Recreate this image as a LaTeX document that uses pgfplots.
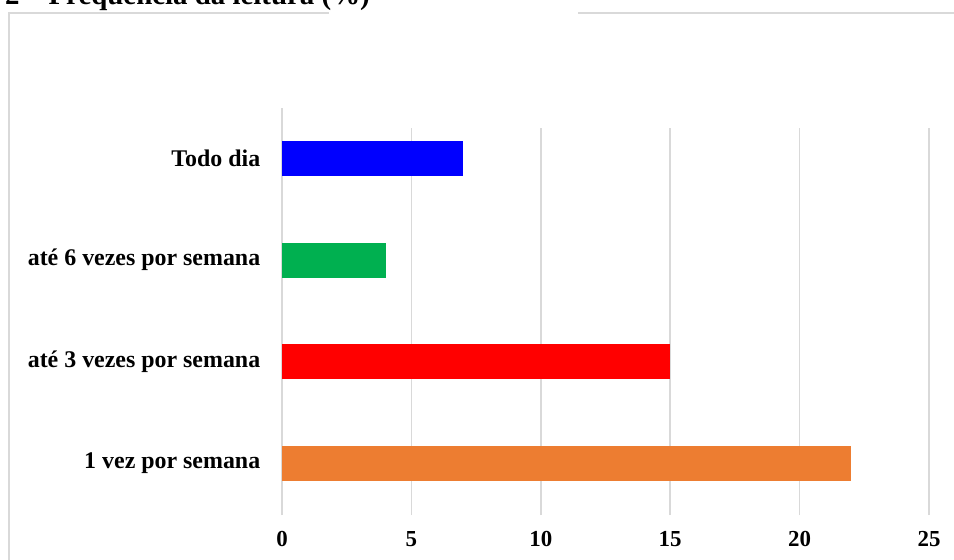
\documentclass[border=0pt]{standalone}
\usepackage{pgfplots}
\pgfplotsset{compat=1.18}
\usepackage{fontspec}
\setmainfont{Liberation Serif}
\definecolor{gridgray}{HTML}{D9D9D9}
\definecolor{barblue}{HTML}{0000FF}
\definecolor{bargreen}{HTML}{00B050}
\definecolor{barred}{HTML}{FF0000}
\definecolor{barorange}{HTML}{ED7D31}
\begin{document}
\begin{tikzpicture}
\clip (0,0) rectangle (954bp,-560bp);
% chart frame
\draw[gridgray, line width=2bp] (9bp,-12.5bp) -- (9bp,-560bp);
\draw[gridgray, line width=2bp] (8bp,-12.5bp) -- (329bp,-12.5bp);
\draw[gridgray, line width=2bp] (578bp,-12.5bp) -- (954bp,-12.5bp);
% caption
\node[anchor=base east, inner sep=0, font=\bfseries\fontsize{29}{29}\selectfont]
  at (370bp,-4.5bp) {2 – Frequência da leitura (\%)};
\begin{axis}[
  at={(282bp,-515bp)}, anchor=south west,
  scale only axis, width=647bp, height=387bp,
  xbar, bar width=35bp, bar shift=0pt,
  xmin=0, xmax=25, ymin=-0.51, ymax=3.3,
  xtick={0,5,...,25}, ytick={0,1,2,3},
  yticklabels={1 vez por semana, até 3 vezes por semana, até 6 vezes por semana, Todo dia},
  xmajorgrids, major grid style={gridgray, line width=1.5bp},
  axis line style={draw=none}, tick style={draw=none},
  /pgf/number format/assume math mode=true,
  xticklabel style={font=\bfseries\fontsize{23}{23}\selectfont, yshift=-13bp},
  yticklabel style={font=\bfseries\fontsize{24}{24}\selectfont, xshift=-14bp},
  clip=false,
]
\draw[gridgray, line width=1.5bp] (axis cs:0,-0.51) -- (axis cs:0,3.5);
\addplot[fill=barorange, draw=none] coordinates {(22,0)};
\addplot[fill=barred, draw=none] coordinates {(15,1)};
\addplot[fill=bargreen, draw=none] coordinates {(4,2)};
\addplot[fill=barblue, draw=none] coordinates {(7,3)};
\end{axis}
\end{tikzpicture}
\end{document}
